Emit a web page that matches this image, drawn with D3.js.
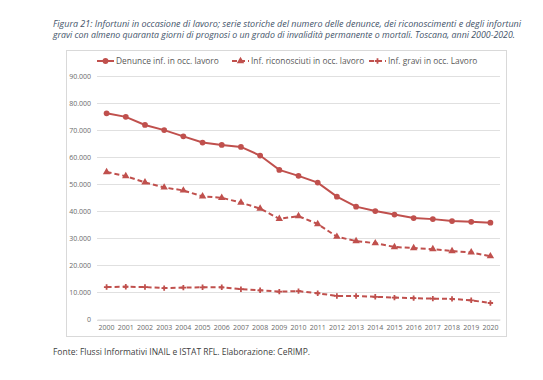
<!DOCTYPE html>
<html><head><meta charset="utf-8">
<script src="https://cdn.jsdelivr.net/npm/d3@7"></script>
<style>body{margin:0;background:#fff}svg{display:block}</style>
</head><body>
<svg id="c" width="543" height="380"></svg>
<script>
const years = ["2000","2001","2002","2003","2004","2005","2006","2007","2008","2009","2010","2011","2012","2013","2014","2015","2016","2017","2018","2019","2020"];
const denunce = [76200,74900,71900,70000,67700,65400,64500,63800,60600,55300,53100,50600,45400,41700,40100,38800,37500,37100,36400,36100,35800];
const riconosciuti = [54500,53000,50700,48800,47700,45500,45000,43200,41000,37200,38200,35300,30600,29000,28200,26800,26400,26000,25300,24800,23400];
const gravi = [12000,12100,12000,11600,11800,11900,11900,11200,10800,10300,10500,9700,8700,8700,8400,8100,7900,7700,7600,7100,6100];
const seriesNames = ["Denunce inf. in occ. lavoro","Inf. riconosciuti in occ. lavoro","Inf. gravi in occ. Lavoro"];
const yTicks = [0,10000,20000,30000,40000,50000,60000,70000,80000,90000];
const titleLines = ["Figura 21: Infortuni in occasione di lavoro; serie storiche del numero delle denunce, dei riconoscimenti e degli infortuni","gravi con almeno quaranta giorni di prognosi o un grado di invalidità permanente o mortali. Toscana, anni 2000-2020."];
const footer = "Fonte: Flussi Informativi INAIL e ISTAT RFL. Elaborazione: CeRIMP.";

const svg = d3.select("#c");
const red = "#c0504d";
const font = "Open Sans, Liberation Sans, sans-serif";

// title
svg.selectAll("text.title").data(titleLines).join("text")
  .attr("class","title")
  .attr("x",53).attr("y",(d,i)=>27+i*10.5)
  .attr("font-family",font).attr("font-style","italic")
  .attr("font-size",8.6).attr("fill","#44546a")
  .attr("textLength",(d,i)=> i===0 ? 468 : 462).attr("lengthAdjust","spacingAndGlyphs")
  .text(d=>d);

// chart frame
svg.append("rect").attr("x",66.5).attr("y",50.5).attr("width",440).attr("height",286)
  .attr("fill","#fff").attr("stroke","#d9d9d9");

const x = d3.scaleBand().domain(years).range([97,500]);
const y = d3.scaleLinear().domain([0,90000]).range([319.5,76]);

// gridlines
svg.append("g").selectAll("line").data(yTicks).join("line")
  .attr("x1",97).attr("x2",500)
  .attr("y1",d=>Math.round(y(d))+0.5).attr("y2",d=>Math.round(y(d))+0.5)
  .attr("stroke","#e0e0e0").attr("stroke-width",1);

const fmt = d => d===0 ? "0" : d3.format(",")(d).replace(/,/g,".");
const yAxis = d3.axisLeft(y).tickValues(yTicks).tickFormat(fmt).tickSize(0).tickPadding(6);
const gy = svg.append("g").attr("transform","translate(97,0)").call(yAxis);
gy.select(".domain").remove();
gy.selectAll("text").attr("font-family",font).attr("font-size",7).attr("fill","#6a6a6a");

const xAxis = d3.axisBottom(x).tickSize(0).tickPadding(6);
const gx = svg.append("g").attr("transform","translate(0,319.5)").call(xAxis);
gx.select(".domain").attr("stroke","#d9d9d9");
gx.selectAll("text").attr("font-family",font).attr("font-size",7).attr("fill","#6a6a6a");

const cx = d => x(d) + x.bandwidth()/2;
const line = d3.line().x((d,i)=>cx(years[i])).y(d=>y(d));

const data = [denunce, riconosciuti, gravi];
const dashes = [null,"5,3","5,3"];
const symbols = [d3.symbolCircle, d3.symbolTriangle, d3.symbolCross];
const sizes = [26, 24, 16];

data.forEach((vals,k)=>{
  svg.append("path").datum(vals).attr("d",line)
    .attr("fill","none").attr("stroke",red).attr("stroke-width",2)
    .attr("stroke-dasharray",dashes[k]);
  svg.append("g").selectAll("path").data(vals).join("path")
    .attr("transform",(d,i)=>`translate(${cx(years[i])},${y(d)})`)
    .attr("d",d3.symbol().type(symbols[k]).size(sizes[k]))
    .attr("fill",red);
});

// legend
const legX = [97, 232, 369];
const lg = svg.append("g");
seriesNames.forEach((n,k)=>{
  const g = lg.append("g").attr("transform",`translate(${legX[k]},61)`);
  g.append("line").attr("x1",0).attr("x2",17).attr("y1",0).attr("y2",0)
    .attr("stroke",red).attr("stroke-width",2).attr("stroke-dasharray",dashes[k]);
  g.append("path").attr("transform","translate(8.5,0)")
    .attr("d",d3.symbol().type(symbols[k]).size(sizes[k])).attr("fill",red);
  g.append("text").attr("x",19).attr("y",3).attr("font-family",font)
    .attr("font-size",8.4).attr("fill","#595959").text(n);
});

// footer
svg.append("text").attr("x",53).attr("y",355).attr("font-family",font)
  .attr("font-size",8.6).attr("fill","#404040")
  .attr("textLength",257).attr("lengthAdjust","spacingAndGlyphs").text(footer);
</script>
</body></html>
